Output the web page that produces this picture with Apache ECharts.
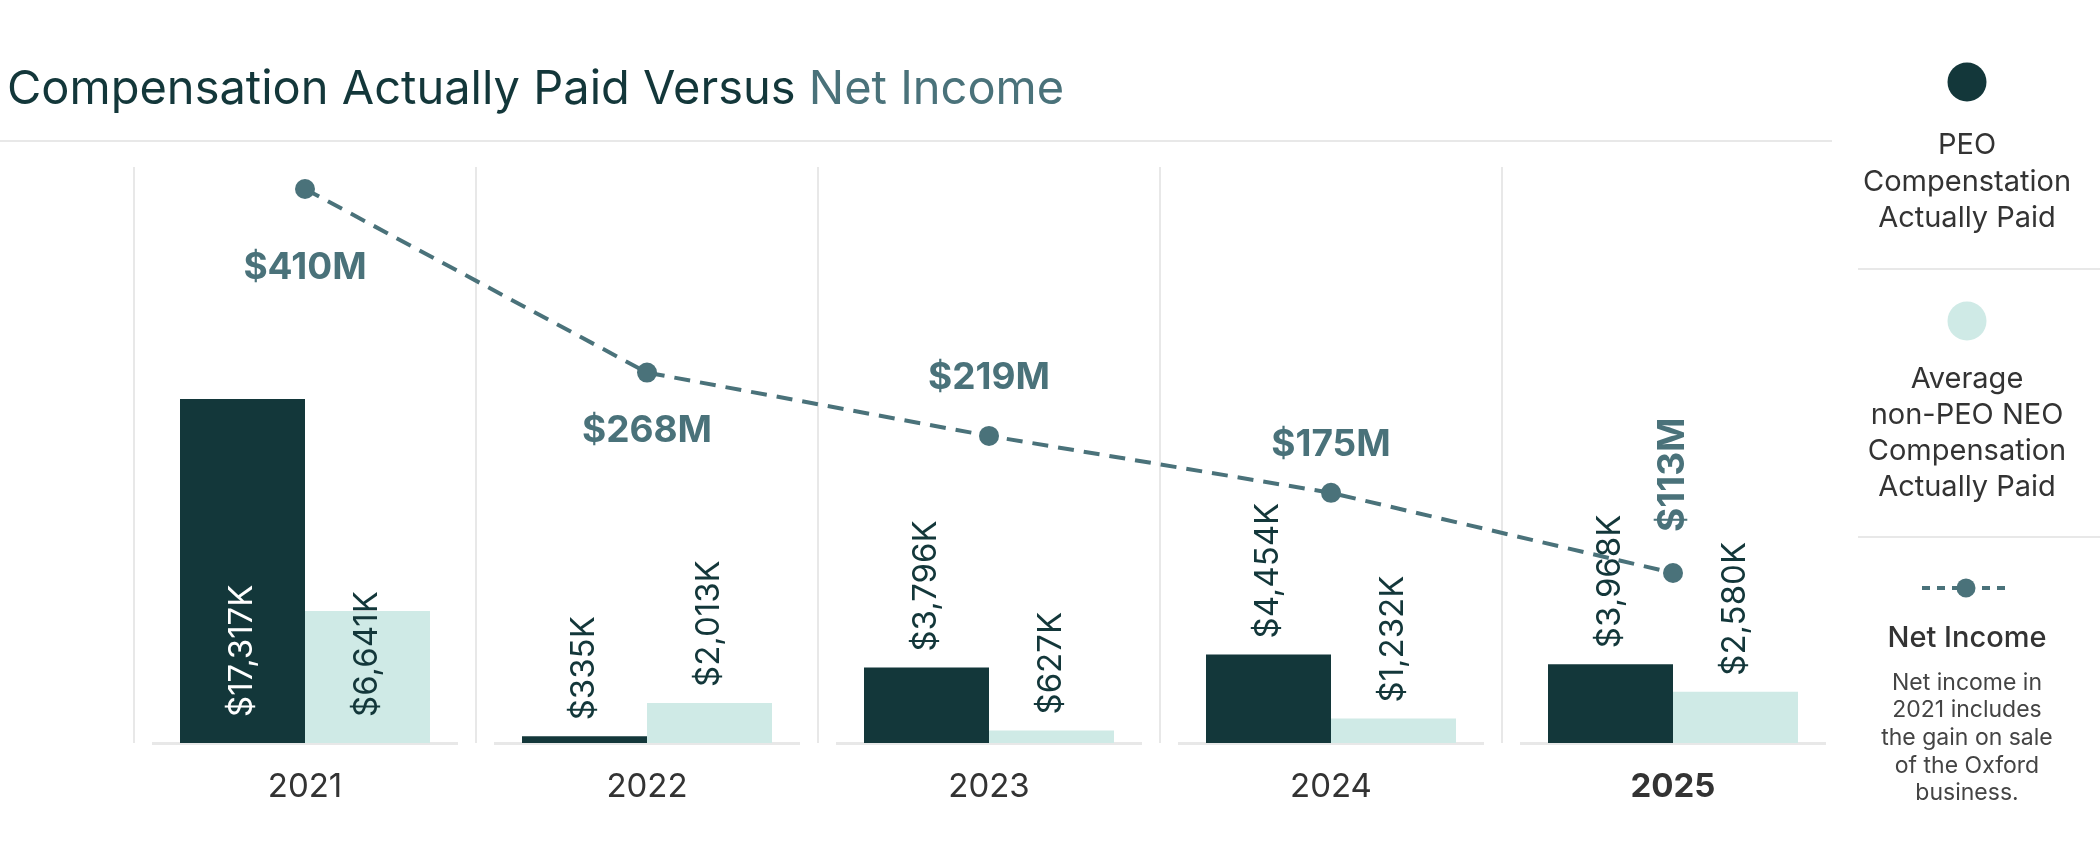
<!DOCTYPE html>
<html>
<head>
<meta charset="utf-8">
<script src="https://cdn.jsdelivr.net/npm/echarts@6/dist/echarts.min.js"></script>
<style>
  html, body { margin: 0; padding: 0; background: #fff; }
  #chart { width: 2100px; height: 864px; }
</style>
</head>
<body>
<div id="chart"></div>
<script>
// data
var years = ['2021', '2022', '2023', '2024', '2025'];
var peoCap = [17317, 335, 3796, 4454, 3968];      // PEO CAP, $K
var neoCap = [6641, 2013, 627, 1232, 2580];       // avg non-PEO NEO CAP, $K
var netIncome = [410, 268, 219, 175, 113];        // $M

var DARK = '#13373a';
var LIGHT = '#cfeae6';
var TEAL = '#4a727a';
var GRID_LINE = '#e8e8e8';
var FONT = 'Inter';

// where each net income label sits relative to its point
var netLabelPlace = [
  { position: 'bottom', distance: 50 },
  { position: 'bottom', distance: 30 },
  { position: 'top', distance: 30 },
  { position: 'top', distance: 19 },
  { position: 'top', distance: 31, rotate: 90, align: 'left', verticalAlign: 'middle' }
];

function kLabel(v) {
  return '$' + v.toLocaleString('en-US') + 'K';
}

function barData(values, insideColor) {
  return values.map(function (v) {
    // big bars carry their label inside, from the bottom
    if (v > 5000) {
      return { value: v, label: { position: 'insideBottom', distance: 26, color: insideColor } };
    }
    return v;
  });
}

var chart = echarts.init(document.getElementById('chart'));

var barLabel = {
  show: true,
  position: 'top',
  rotate: 90,
  align: 'left',
  verticalAlign: 'middle',
  distance: 16,
  fontFamily: FONT,
  fontSize: 33,
  color: DARK,
  formatter: function (p) { return kLabel(p.value); }
};

var option = {
  animation: false,
  backgroundColor: '#fff',
  title: {
    text: 'Compensation Actually Paid Versus {b|Net Income}',
    left: 7,
    top: 66,
    padding: 0,
    textStyle: {
      fontFamily: FONT,
      fontSize: 47,
      fontWeight: 'normal',
      color: DARK,
      rich: {
        b: { fontFamily: FONT, fontSize: 47, color: TEAL }
      }
    }
  },
  grid: {
    left: 134,
    right: 256,
    top: 167,
    bottom: 121,
    outerBoundsMode: 'none'
  },
  xAxis: {
    type: 'category',
    data: years,
    boundaryGap: true,
    axisLine: { show: false },
    axisTick: { show: false },
    splitLine: {
      show: true,
      interval: 0,
      showMaxLine: false,
      lineStyle: { color: GRID_LINE, width: 2 }
    },
    axisLabel: {
      interval: 0,
      margin: 28,
      fontFamily: FONT,
      fontSize: 33,
      color: '#333',
      formatter: function (v, i) {
        return i === years.length - 1 ? '{b|' + v + '}' : v;
      },
      rich: {
        b: { fontFamily: FONT, fontSize: 33, fontWeight: 'bold', color: '#333' }
      }
    }
  },
  yAxis: [
    { type: 'value', min: 0, max: 29000, show: false },
    { type: 'value', min: -18.5, max: 427, show: false }
  ],
  series: [
    {
      // baseline piece under each year
      type: 'custom',
      silent: true,
      z: 0,
      data: years.map(function (y, i) { return [i, 0]; }),
      renderItem: function (params, api) {
        var p = api.coord([api.value(0), 0]);
        var bw = api.size([1, 0])[0];
        return {
          type: 'rect',
          shape: { x: p[0] - bw / 2 + 18, y: p[1] - 1, width: bw - 36, height: 3 },
          style: { fill: GRID_LINE }
        };
      }
    },
    {
      name: 'PEO Compenstation Actually Paid',
      type: 'bar',
      barWidth: 125,
      barGap: '0%',
      itemStyle: { color: DARK },
      label: barLabel,
      data: barData(peoCap, '#fff')
    },
    {
      name: 'Average non-PEO NEO Compensation Actually Paid',
      type: 'bar',
      barWidth: 125,
      barGap: '0%',
      itemStyle: { color: LIGHT },
      label: barLabel,
      data: barData(neoCap, DARK)
    },
    {
      name: 'Net Income',
      type: 'line',
      yAxisIndex: 1,
      z: 5,
      symbol: 'circle',
      symbolSize: 20,
      lineStyle: { color: TEAL, width: 4, type: [16, 10] },
      itemStyle: { color: TEAL },
      label: {
        show: true,
        fontFamily: FONT,
        fontSize: 37,
        fontWeight: 'bold',
        color: TEAL,
        formatter: function (p) { return '$' + p.value + 'M'; }
      },
      data: netIncome.map(function (v, i) {
        return { value: v, label: netLabelPlace[i] };
      })
    }
  ],
  graphic: [
    // rule under title
    { type: 'line', shape: { x1: 0, y1: 141, x2: 1832, y2: 141 }, style: { stroke: GRID_LINE, lineWidth: 2 } },
    // legend column
    { type: 'circle', shape: { cx: 1967, cy: 82, r: 19.5 }, style: { fill: DARK } },
    {
      type: 'text', x: 1967, y: 182,
      style: {
        text: 'PEO\nCompenstation\nActually Paid',
        fontFamily: FONT, fontSize: 29, lineHeight: 36.5, fill: '#333',
        align: 'center', verticalAlign: 'middle'
      }
    },
    { type: 'line', shape: { x1: 1858, y1: 269, x2: 2100, y2: 269 }, style: { stroke: GRID_LINE, lineWidth: 2 } },
    { type: 'circle', shape: { cx: 1967, cy: 321, r: 19.5 }, style: { fill: LIGHT } },
    {
      type: 'text', x: 1967, y: 433,
      style: {
        text: 'Average\nnon-PEO NEO\nCompensation\nActually Paid',
        fontFamily: FONT, fontSize: 29, lineHeight: 36, fill: '#333',
        align: 'center', verticalAlign: 'middle'
      }
    },
    { type: 'line', shape: { x1: 1858, y1: 537, x2: 2100, y2: 537 }, style: { stroke: GRID_LINE, lineWidth: 2 } },
    {
      type: 'line', shape: { x1: 1922, y1: 588, x2: 2010, y2: 588 },
      style: { stroke: TEAL, lineWidth: 4, lineDash: [8, 7] }
    },
    { type: 'circle', shape: { cx: 1966, cy: 588, r: 9.5 }, style: { fill: TEAL } },
    {
      type: 'text', x: 1967, y: 638,
      style: {
        text: 'Net Income',
        fontFamily: FONT, fontSize: 29, fontWeight: 500, fill: '#333',
        align: 'center', verticalAlign: 'middle'
      }
    },
    {
      type: 'text', x: 1967, y: 738,
      style: {
        text: 'Net income in\n2021 includes\nthe gain on sale\nof the Oxford\nbusiness.',
        fontFamily: FONT, fontSize: 23, lineHeight: 27.7, fill: '#444',
        align: 'center', verticalAlign: 'middle'
      }
    }
  ]
};

chart.setOption(option);
</script>
</body>
</html>
